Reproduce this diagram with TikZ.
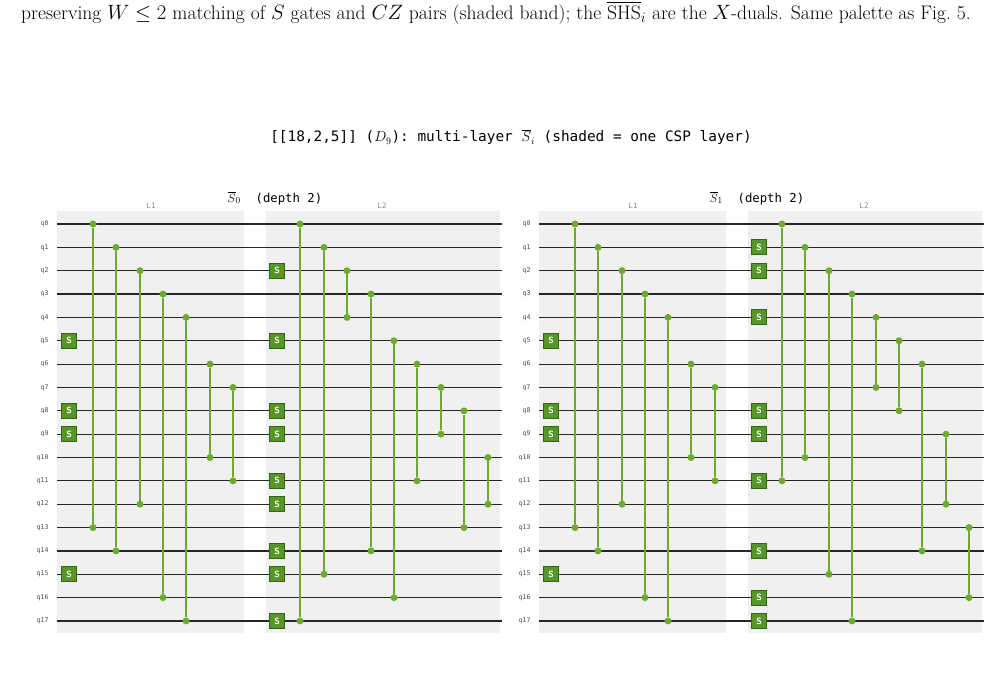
\documentclass[tikz,border=0pt]{standalone}
\usepackage{fontspec}
\usepackage{amsmath}
\setmonofont{DejaVu Sans Mono}
\usetikzlibrary{positioning}
\definecolor{czgreen}{RGB}{108, 170, 48}
\definecolor{sfill}{RGB}{86, 150, 40}
\definecolor{sdraw}{RGB}{52, 100, 20}
\definecolor{band}{RGB}{240, 240, 240}
\tikzset{
  wire/.style={line width=1.2pt, black!85},
  sgate/.style={rectangle, fill=sfill, draw=sdraw, line width=1pt, minimum size=15pt, inner sep=0pt, text=white, font=\sffamily\bfseries\small},
  cz/.style={line width=2.2pt, czgreen},
  dot/.style={circle, fill=czgreen, minimum size=7pt, inner sep=0pt},
  qlab/.style={font=\ttfamily\fontsize{6.5}{7}\selectfont, black!70, anchor=east},
  lay/.style={font=\ttfamily\fontsize{7.5}{8}\selectfont, black!45},
}
\begin{document}
\begin{tikzpicture}[x=1pt, y=-1pt]
\useasboundingbox (0,0) rectangle (993,674);
\fill[white] (0,0) rectangle (993,674);
% caption
\node (cap) at (496,13) {\fontsize{19.6}{21}\selectfont preserving $W\le 2$ matching of $S$ gates and $CZ$ pairs (shaded band); the $\overline{\mathrm{SHS}}_i$ are the $X$-duals. Same palette as Fig.~5.};
\node[font=\ttfamily\fontsize{14.4}{16}\selectfont] (title) at (511,137) {[[18,2,5]] ($D_9$): multi-layer $\overline{S}_i$ (shaded = one CSP layer)};
% panels: offset / index
\foreach \ox/\k in {0/0, 482/1} {
  \fill[band] (57+\ox,211) rectangle (244+\ox,633);
  \fill[band] (266+\ox,211) rectangle (500+\ox,633);
  \node[lay] (l1\k) at (151+\ox,206) {L1};
  \node[lay] (l2\k) at (382+\ox,206) {L2};
  \node[font=\ttfamily\fontsize{12.3}{14}\selectfont] (pt\k) at (275+\ox,198) {$\overline{S}_{\k}$\ \ (depth 2)};
  \foreach \q in {0,...,17} {
    \coordinate (w\k a\q) at (57+\ox,224+23.35*\q);
    \coordinate (w\k b\q) at (502+\ox,224+23.35*\q);
    \draw[wire] (w\k a\q) -- (w\k b\q);
    \node[qlab] (ql\k\q) at (52+\ox,224+23.35*\q) {q\q};
  }
}
% S gates
\foreach \x/\q in {69/5,69/8,69/9,69/15,277/2,277/5,277/8,277/9,277/11,277/12,277/14,277/15,277/17,
  551/5,551/8,551/9,551/15,759/1,759/2,759/4,759/8,759/9,759/11,759/14,759/16,759/17}
  \node[sgate] (s\x q\q) at (\x,224+23.35*\q) {S};
% CZ pairs
\foreach \x/\a/\b in {93/0/13,116/1/14,140/2/12,163/3/16,186/4/17,210/6/10,233/7/11,
  300/0/17,324/1/15,347/2/4,371/3/14,394/5/16,417/6/11,441/7/9,464/8/13,488/10/12,
  575/0/13,598/1/14,622/2/12,645/3/16,668/4/17,691/6/10,715/7/11,
  782/0/11,805/1/10,829/2/15,852/3/17,876/4/7,899/5/8,922/6/14,946/9/12,969/13/16} {
  \node[dot] (c\x a) at (\x,224+23.35*\a) {};
  \node[dot] (c\x b) at (\x,224+23.35*\b) {};
  \draw[cz] (c\x a) -- (c\x b);
}
\end{tikzpicture}
\end{document}
